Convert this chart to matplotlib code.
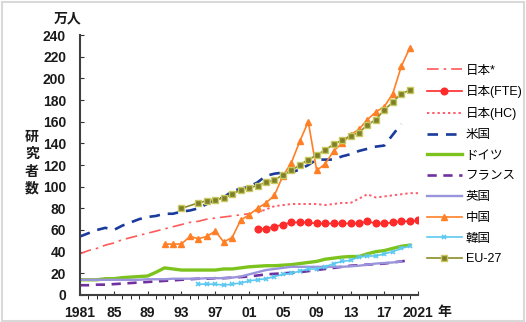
import matplotlib.pyplot as plt
import numpy as np

plt.rcParams['font.family'] = ['Liberation Sans', 'Noto Sans CJK JP', 'DejaVu Sans']

# data (万人)
yr_japan_old = np.arange(1981, 2002)
japan_old = [38, 41, 43, 46, 48, 51, 53, 55, 57, 59, 61, 63, 65, 67, 68, 70, 71, 72, 73, 74, 75]
yr_japan = np.arange(2002, 2022)
japan_fte = [61, 61, 63, 65, 67, 67, 67, 66, 66, 66, 66, 66, 66, 68, 66, 66, 67, 68, 68, 69]
japan_hc = [76, 79, 82, 83, 84, 84, 84, 84, 83, 84, 85, 85, 89, 93, 90, 91, 92, 93, 94, 94]
yr_us = np.arange(1981, 2020)
us = [54, 57, 60, 62, 60, 64, 67, 70, 72, 73, 75, 75, 77, 78, 80, 84, 88, 90, 96, 98,
      100, 104, 110, 112, 113, 113, 116, 120, 125, 125, 125, 128, 130, 133, 135, 137, 138, 148, 158]
yr_de = np.arange(1981, 2021)
germany = [14, 14, 14, 15, 15, 16, 16.5, 17, 17.5, 21, 25, 24, 23, 23, 23, 23, 23, 24, 24, 25,
           26, 26.5, 27, 27, 27.5, 28, 29, 30, 31, 33, 34, 35, 35.5, 35.5, 38, 40, 41, 43, 45, 46]
yr_fr = np.arange(1981, 2021)
france = [9, 9, 9.5, 9.5, 10, 10.5, 11, 11.5, 12, 12.5, 13, 13.5, 14, 14.5, 15, 15, 15.5, 15.5, 16, 16.5,
          17, 18, 19, 19.5, 20, 20.5, 21, 22, 23, 24, 25, 26, 27, 27.5, 28, 28.5, 29, 30, 31, 32]
yr_uk = np.arange(1981, 2020)
uk = [14, 14, 14, 14, 14, 14, 14, 14, 14.5, 14.5, 14.5, 15, 15, 15, 15, 15.5, 15.5, 15.5, 16, 17,
      19, 21, 23, 24, 25, 26, 26, 26, 26, 26, 26, 26, 26.5, 27, 28, 29, 29.5, 30, 31]
yr_cn = np.arange(1991, 2021)
china = [47, 47, 47, 54, 52, 54, 59, 49, 53, 69, 74, 80, 85, 92, 110, 122, 142, 160, 115, 121,
         133, 140, 148, 153, 162, 169, 174, 186, 211, 228]
yr_kr = np.arange(1995, 2021)
korea = [10, 10, 10, 9, 10, 11, 13, 14, 15, 17, 19, 20, 22, 24, 24, 26, 29, 31, 32, 35,
         36, 36, 38, 40, 43, 45]
yr_eu = [1993] + list(range(1995, 2021))
eu27 = [80, 85, 87, 88, 89.5, 93, 97, 99, 101, 104, 106, 111, 115, 120, 125, 129, 134,
        139, 143, 147, 150, 157, 162, 171, 178, 186, 189]

fig = plt.figure(figsize=(5.26, 3.22), dpi=100)
ax = fig.add_axes([0.152, 0.084, 0.643, 0.807])

ax.plot(yr_japan_old, japan_old, color='#ff5a5a', lw=1.2, dashes=(7, 3, 1.5, 3), label='日本*')
ax.plot(yr_japan, japan_fte, color='#ff2a2a', lw=1.2, marker='o', ms=4.8, label='日本(FTE)')
ax.plot(yr_japan, japan_hc, color='#ff5a6a', lw=1.4, linestyle=(0, (1.2, 1.5)), label='日本(HC)')
ax.plot(yr_us, us, color='#1a3a9c', lw=1.9, dashes=(4, 3), label='米国')
ax.plot(yr_de, germany, color='#7dc31e', lw=2.4, label='ドイツ')
ax.plot(yr_fr, france, color='#7030a0', lw=1.9, dashes=(3.5, 2.5), label='フランス')
ax.plot(yr_uk, uk, color='#9a94dc', lw=1.7, label='英国')
ax.plot(yr_cn, china, color='#ff7f27', lw=1.2, marker='^', ms=4.5, label='中国')
ax.plot(yr_kr, korea, color='#5cc8f0', lw=1.2, marker='x', ms=3.5, mew=1.2, label='韓国')
ax.plot(yr_eu, eu27, color='#8a8c2a', lw=1.2, marker='s', ms=4.6, mfc='#7f7f2a', mec='#c8c860', label='EU-27')

ax.set_xlim(1981, 2021)
ax.set_ylim(0, 240)
ax.set_yticks(range(0, 241, 20))
ax.set_xticks(range(1981, 2022, 4))
ax.set_xticklabels(['1981', '85', '89', '93', '97', '01', '05', '09', '13', '17', '2021'])
ax.set_xticks(range(1981, 2022), minor=True)
ax.tick_params(axis='both', direction='in', labelsize=10, colors='#333333')
ax.tick_params(axis='x', which='both', length=3, pad=8)
ax.tick_params(axis='y', length=3, pad=10)
for lab in ax.get_xticklabels() + ax.get_yticklabels():
    lab.set_color('#1a1a1a')
    lab.set_fontweight('bold')
for side in ['top', 'right']:
    ax.spines[side].set_visible(False)
for side in ['left', 'bottom']:
    ax.spines[side].set_color('#404040')
    ax.spines[side].set_linewidth(1.5)

fig.text(0.128, 0.93, '万人', fontsize=10, fontweight='bold', ha='center', color='#1a1a1a')
fig.text(0.061, 0.494, '研\n究\n者\n数', fontsize=10, fontweight='bold', ha='center', va='center',
         linespacing=1.3, color='#1a1a1a')
fig.text(0.845, 0.031, '年', fontsize=10, fontweight='bold', ha='center', va='center', color='#1a1a1a')

ax.legend(loc='upper left', bbox_to_anchor=(1.0, 0.92), frameon=False, fontsize=9,
          handlelength=2.8, handletextpad=0.3, labelspacing=0.7, borderaxespad=0.3)

fig.patches.append(plt.Rectangle((0.004, 0.004), 0.992, 0.99, transform=fig.transFigure,
                                 fill=False, edgecolor='#d9d9d9', lw=1.5))

fig.savefig('out.png', dpi=100)
